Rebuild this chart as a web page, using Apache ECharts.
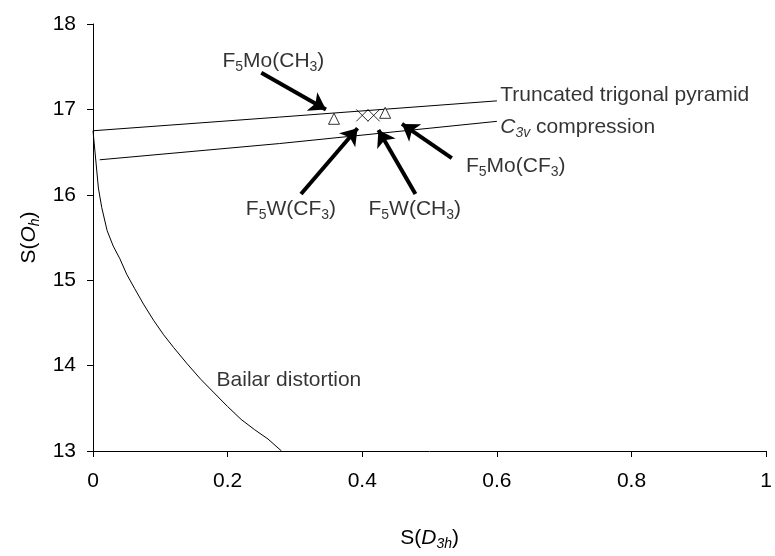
<!DOCTYPE html>
<html>
<head>
<meta charset="utf-8">
<script src="https://cdn.jsdelivr.net/npm/echarts@6/dist/echarts.min.js"></script>
<style>
  html, body { margin: 0; padding: 0; background: #fff; }
  #chart { width: 775px; height: 556px; }
</style>
</head>
<body>
<div id="chart"></div>
<script>
// shape-measure curves
const truncX = [0, 0.277, 0.6];
const truncY = [16.75, 16.91, 17.10];
const c3vX = [0.01, 0.277, 0.6];
const c3vY = [16.41, 16.60, 16.86];
const bailarX = [0, 0.003, 0.008, 0.013, 0.021, 0.03, 0.04, 0.05, 0.062, 0.075, 0.09, 0.105, 0.12, 0.14, 0.16, 0.18, 0.20, 0.22, 0.24, 0.26, 0.28];
const bailarY = [16.75, 16.5, 16.08, 15.85, 15.58, 15.40, 15.25, 15.07, 14.9, 14.72, 14.53, 14.36, 14.21, 14.02, 13.84, 13.68, 13.52, 13.37, 13.25, 13.14, 13.0];

// compounds: triangles = Mo, crosses = W
const moX = [0.358, 0.434];
const moY = [16.89, 16.96];
const wX = [0.400, 0.417];
const wY = [16.93, 16.93];

// arrows [x, y] tail -> head
const arrowFrom = [[0.250, 17.43], [0.309, 16.01], [0.479, 16.01], [0.533, 16.43]];
const arrowTo = [[0.346, 17.00], [0.393, 16.78], [0.424, 16.76], [0.459, 16.83]];

// annotation texts and where they sit
const noteText = [
  'F{s|5}Mo(CH{s|3})',
  'F{s|5}W(CF{s|3})',
  'F{s|5}W(CH{s|3})',
  'F{s|5}Mo(CF{s|3})',
  'Truncated trigonal pyramid',
  '{i|C}{si|3v} compression',
  'Bailar distortion'
];
const noteX = [0.268, 0.294, 0.478, 0.628, 0.605, 0.605, 0.1835];
const noteY = [17.57, 15.83, 15.83, 16.33, 17.17, 16.79, 13.83];
const notePos = ['inside', 'inside', 'inside', 'inside', 'right', 'right', 'right'];

const FONT = '"Liberation Sans", Arial, sans-serif';
const richSub = {
  s: { fontSize: 14, lineHeight: 14, verticalAlign: 'bottom', fontFamily: FONT, color: '#000' },
  i: { fontStyle: 'italic', fontSize: 21, lineHeight: 26, fontFamily: FONT, color: '#000' },
  si: { fontStyle: 'italic', fontSize: 14, lineHeight: 14, verticalAlign: 'bottom', fontFamily: FONT, color: '#000' }
};

function pairs(xs, ys) {
  return xs.map((x, k) => [x, ys[k]]);
}

const chart = echarts.init(document.getElementById('chart'));

chart.setOption({
  animation: false,
  backgroundColor: '#fff',
  textStyle: { fontFamily: FONT, color: '#000' },
  grid: { left: 93, right: 6, top: 24, bottom: 99 },
  xAxis: {
    type: 'value',
    min: 0,
    max: 1,
    interval: 0.2,
    name: 'S({i|D}{si|3h})',
    nameLocation: 'middle',
    nameGap: 74,
    nameTextStyle: { fontSize: 21, lineHeight: 26, fontFamily: FONT, color: '#000', rich: richSub },
    axisLine: { lineStyle: { color: '#000', width: 1 } },
    axisTick: { inside: false, length: 6, lineStyle: { color: '#000' } },
    splitLine: { show: false },
    axisLabel: { fontSize: 21, color: '#000', margin: 20, fontFamily: FONT }
  },
  yAxis: {
    type: 'value',
    min: 13,
    max: 18,
    interval: 1,
    name: 'S({i|O}{si|h})',
    nameLocation: 'middle',
    nameRotate: 90,
    nameGap: 50,
    nameTextStyle: { fontSize: 21, lineHeight: 26, fontFamily: FONT, color: '#000', rich: richSub },
    axisLine: { show: true, lineStyle: { color: '#000', width: 1 } },
    axisTick: { show: true, inside: false, length: 6, lineStyle: { color: '#000' } },
    splitLine: { show: false },
    axisLabel: { fontSize: 21, color: '#000', margin: 17, fontFamily: FONT }
  },
  series: [
    {
      name: 'Truncated trigonal pyramid',
      type: 'line',
      data: pairs(truncX, truncY),
      showSymbol: false,
      lineStyle: { color: '#000', width: 1 },
      silent: true
    },
    {
      name: 'C3v compression',
      type: 'line',
      data: pairs(c3vX, c3vY),
      showSymbol: false,
      lineStyle: { color: '#000', width: 1 },
      silent: true
    },
    {
      name: 'Bailar distortion',
      type: 'line',
      data: pairs(bailarX, bailarY),
      showSymbol: false,
      lineStyle: { color: '#000', width: 1 },
      silent: true
    },
    {
      name: 'F5Mo',
      type: 'scatter',
      data: pairs(moX, moY),
      symbol: 'triangle',
      symbolSize: 11,
      itemStyle: { color: '#fff', borderColor: '#000', borderWidth: 1 },
      z: 5
    },
    {
      name: 'F5W',
      type: 'scatter',
      data: pairs(wX, wY),
      symbol: 'path://M0,0L10,10M0,10L10,0',
      symbolSize: 12,
      itemStyle: { color: 'transparent', borderColor: '#000', borderWidth: 1 },
      z: 5
    },
    {
      name: 'arrows',
      type: 'lines',
      coordinateSystem: 'cartesian2d',
      symbol: ['none', 'arrow'],
      symbolSize: 16,
      lineStyle: { color: '#000', width: 4, opacity: 1 },
      data: arrowFrom.map((f, k) => ({ coords: [f, arrowTo[k]] })),
      silent: true,
      z: 4
    },
    {
      name: 'notes',
      type: 'scatter',
      symbolSize: 0,
      silent: true,
      data: noteText.map((t, k) => ({
        value: [noteX[k], noteY[k]],
        label: {
          show: true,
          position: notePos[k],
          distance: 0,
          formatter: t,
          fontSize: 21,
          lineHeight: 26,
          color: '#000',
          fontFamily: FONT,
          rich: richSub
        }
      }))
    }
  ]
});
</script>
</body>
</html>
